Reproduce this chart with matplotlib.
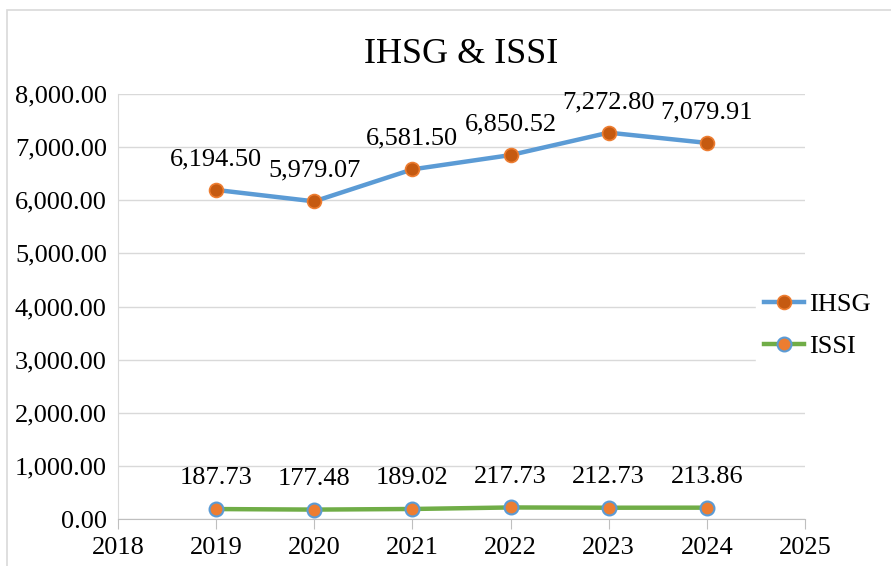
import matplotlib
matplotlib.use("Agg")
import matplotlib.pyplot as plt
from matplotlib.patches import Rectangle
from matplotlib.ticker import FuncFormatter, MultipleLocator

# ── data ──────────────────────────────────────────────
YEARS = [2019, 2020, 2021, 2022, 2023, 2024]
IHSG  = [6194.50, 5979.07, 6581.50, 6850.52, 7272.80, 7079.91]
ISSI  = [187.73, 177.48, 189.02, 217.73, 212.73, 213.86]

plt.rcParams["font.family"] = ["Liberation Serif", "DejaVu Serif"]

fig = plt.figure(figsize=(8.91, 5.66), dpi=100)
ax = fig.add_axes([0.1324, 0.0830, 0.7711, 0.7509])

# outer chart border (light gray, cut off at right/bottom)
fig.patches.append(Rectangle((7 / 891, -0.1), 1.2, 1 - 10 / 566 + 0.1,
                             transform=fig.transFigure, fill=False,
                             edgecolor="#d9d9d9", linewidth=1.2))

ax.plot(YEARS, IHSG, color="#5b9bd5", lw=3.2, marker="o", ms=10,
        mfc="#c55a11", mec="#ed7d31", mew=1.2, label="IHSG", zorder=3)
ax.plot(YEARS, ISSI, color="#70ad47", lw=3.2, marker="o", ms=10,
        mfc="#ed7d31", mec="#5b9bd5", mew=1.5, label="ISSI", zorder=3)

for x, v in zip(YEARS, IHSG):
    ax.annotate(f"{v:,.2f}", (x, v), xytext=(0, 22), textcoords="offset points",
                ha="center", va="center", fontsize=19)
for x, v in zip(YEARS, ISSI):
    ax.annotate(f"{v:,.2f}", (x, v), xytext=(0, 22), textcoords="offset points",
                ha="center", va="center", fontsize=19)

ax.set_xlim(2018, 2025)
ax.set_ylim(0, 8000)
ax.yaxis.set_major_locator(MultipleLocator(1000))
ax.yaxis.set_major_formatter(FuncFormatter(lambda v, p: f"{v:,.2f}"))
ax.set_xticks(range(2018, 2026))

ax.grid(axis="y", color="#d9d9d9", lw=1)
ax.set_axisbelow(True)
for s in ["top", "right"]:
    ax.spines[s].set_visible(False)
ax.spines["left"].set_color("#d9d9d9")
ax.spines["bottom"].set_color("#bfbfbf")
ax.tick_params(axis="y", length=0, labelsize=19, pad=8)
ax.tick_params(axis="x", length=7, color="#bfbfbf", labelsize=19, pad=6)

ax.set_title("IHSG & ISSI", fontsize=26, pad=22)

leg = ax.legend(loc="center left", bbox_to_anchor=(0.91, 0.456), frameon=True,
                fontsize=19, handlelength=1.5, handletextpad=0.2,
                labelspacing=0.7, borderpad=0.3)
leg.get_frame().set_edgecolor("white")
leg.get_frame().set_facecolor("white")
leg.get_frame().set_alpha(1)

fig.savefig("out.png", dpi=100)
